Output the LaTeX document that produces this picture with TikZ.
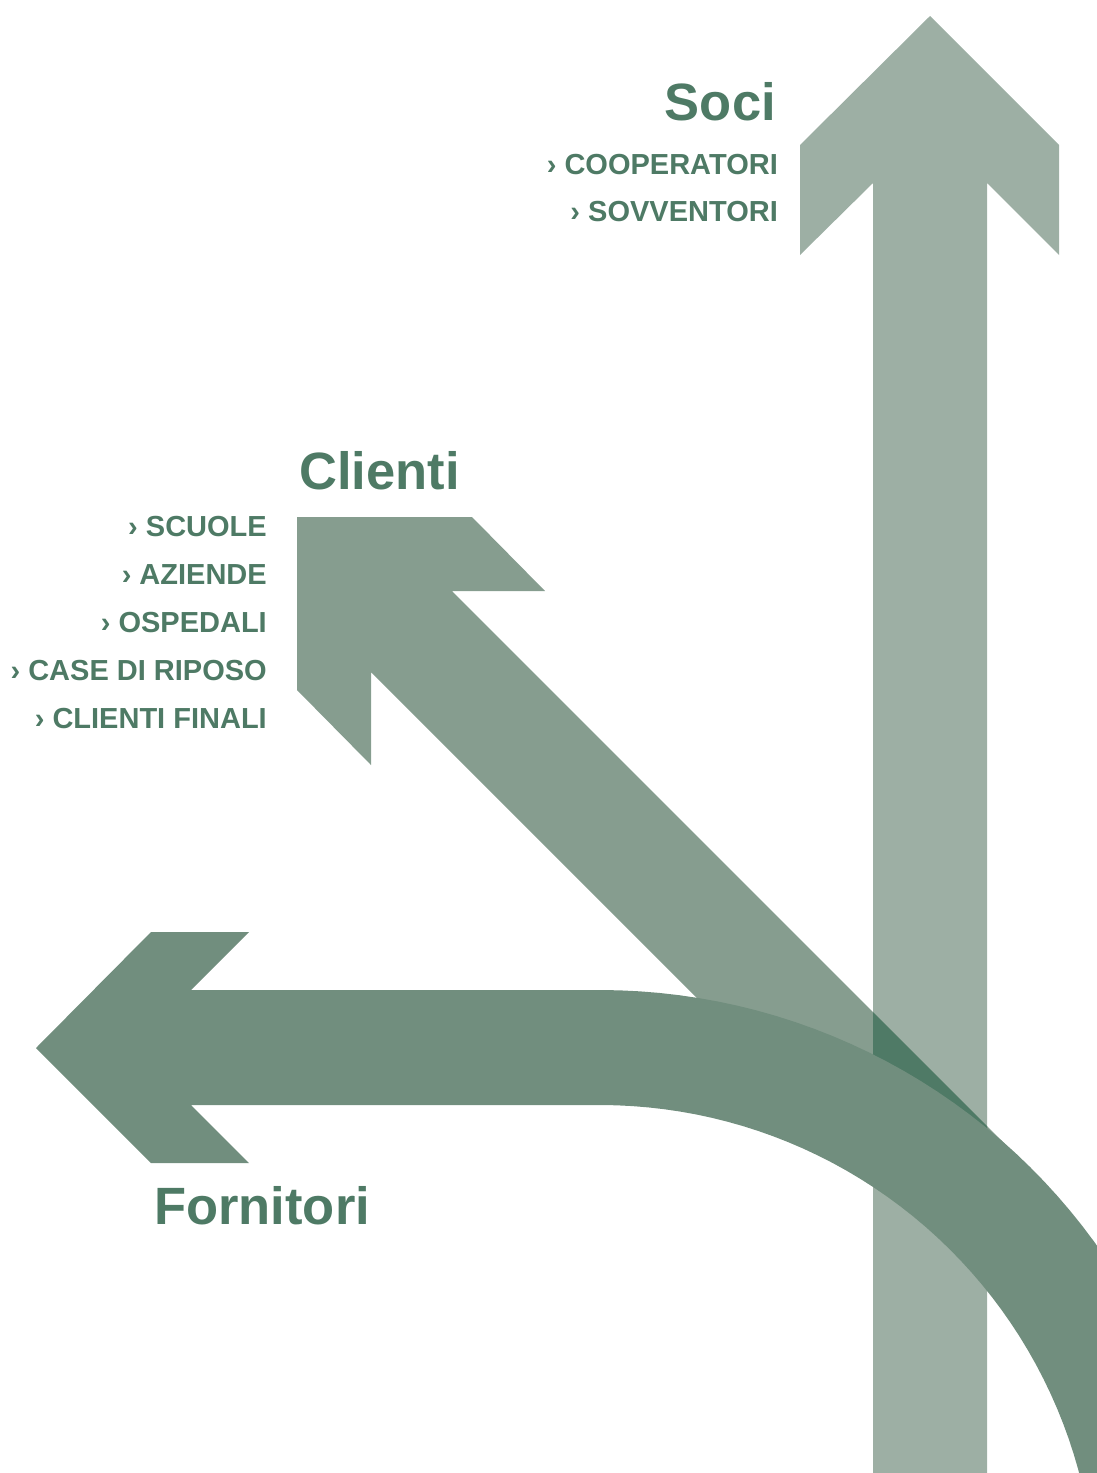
\documentclass[tikz,border=0pt]{standalone}
\usepackage{fontspec}
\setmainfont{Liberation Sans}
\usetikzlibrary{positioning}
\definecolor{socicol}{HTML}{9DAFA4}
\definecolor{clienticol}{HTML}{869D8F}
\definecolor{fornicol}{HTML}{718E7E}
\definecolor{darkcol}{HTML}{4F7A66}
\definecolor{textcol}{HTML}{4E7A65}
\begin{document}
\begin{tikzpicture}[x=1pt, y=-1pt,
    title/.style={text=textcol, font=\bfseries\fontsize{52.5}{52.5}\selectfont, inner sep=0pt},
    item/.style={text=textcol, font=\bfseries\fontsize{29}{29}\selectfont, inner sep=0pt, anchor=base east}]
            \useasboundingbox (0,0) rectangle (1097,1473);
            \clip (0,0) rectangle (1097,1473);

            \fill[socicol] (930,16) -- (1059,145) -- (1059,255) -- (987,183) -- (987,1480)
                -- (873,1480) -- (873,183) -- (800,255) -- (800,145) -- cycle;
            \fill[clienticol] (297,517) -- (472,517) -- (545,591) -- (452,591) -- (1008,1147)
                -- (920,1221) -- (371,672) -- (371,765) -- (297,690) -- cycle;
            \begin{scope}
                \clip (873,0) rectangle (987,1473);
                \fill[darkcol] (452,591) -- (1008,1147) -- (920,1221) -- (371,672) -- cycle;
            \end{scope}
            \fill[fornicol] (36,1048) -- (151,932) -- (249,932) -- (191,990) -- (600,990)
                -- plot[domain=90:-20, samples=60] ({600+611*cos(\x)}, {1601-611*sin(\x)})
                -- plot[domain=-20:90, samples=60] ({600+496*cos(\x)}, {1601-496*sin(\x)})
                -- (191,1105) -- (249,1163) -- (151,1163) -- cycle;

            \node[title, anchor=base east] (soci) at (776,120) {Soci};
            \node[item] (coop) at (778,174) {› COOPERATORI};
            \node[item] (sovv) at ([yshift=-47pt]coop.base east) {› SOVVENTORI};

            \node[title, anchor=base west] (clienti) at (299,489) {Clienti};
            \node[item] (scuole) at (267,536) {› SCUOLE};
            \node[item] (aziende) at ([yshift=-48pt]scuole.base east) {› AZIENDE};
            \node[item] (ospedali) at ([yshift=-48pt]aziende.base east) {› OSPEDALI};
            \node[item] (case) at ([yshift=-48pt]ospedali.base east) {› CASE DI RIPOSO};
            \node[item] (finali) at ([yshift=-48pt]case.base east) {› CLIENTI FINALI};

            \node[title, anchor=base west] (fornitori) at (154,1224) {Fornitori};
        \end{tikzpicture}
\end{document}
